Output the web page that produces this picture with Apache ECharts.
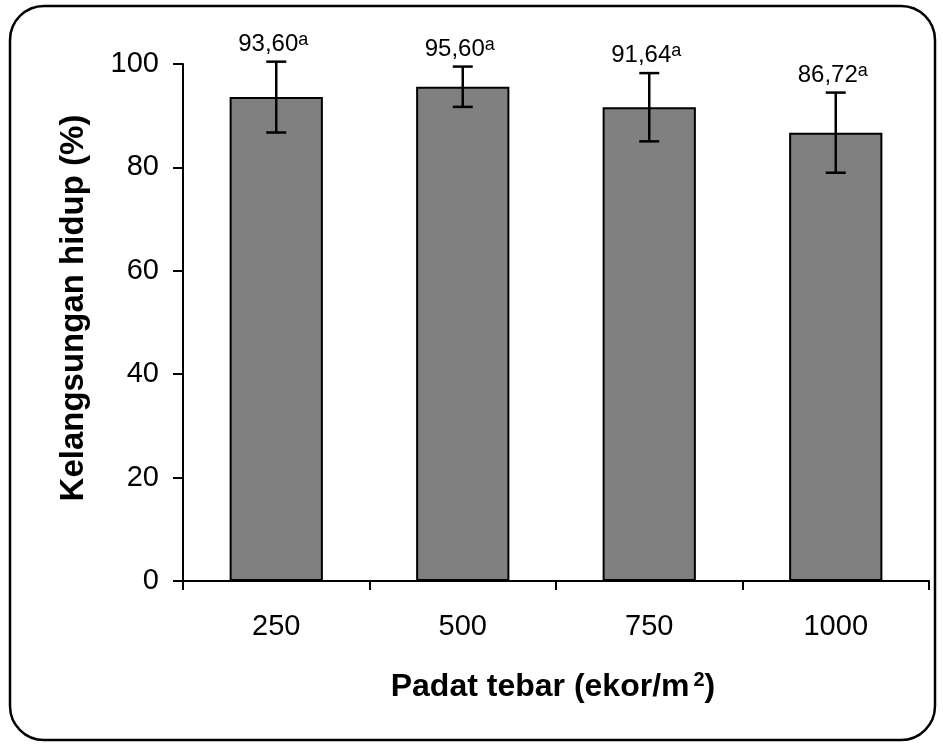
<!DOCTYPE html>
<html>
<head>
<meta charset="utf-8">
<script src="https://cdn.jsdelivr.net/npm/echarts@6/dist/echarts.min.js"></script>
<style>html,body{margin:0;padding:0;background:#fff;}#c{width:943px;height:745px;}</style>
</head>
<body>
<div id="c"></div>
<script>
const categories = ['250', '500', '750', '1000'];
const survival = [93.60, 95.60, 91.64, 86.72];
const errors = [6.85, 3.9, 6.6, 7.75];
const valueLabels = ['93,60', '95,60', '91,64', '86,72'];
const letters = ['a', 'a', 'a', 'a'];
const yTicks = { min: 0, max: 100, interval: 20 };
const yTitle = 'Kelangsungan hidup (%)';

const FONT = '"Liberation Sans", Arial, sans-serif';
const chart = echarts.init(document.getElementById('c'));

const errData = categories.map((c, i) => [i, survival[i], errors[i], i]);

chart.setOption({
  animation: false,
  backgroundColor: '#fff',
  grid: { left: 183, right: 14, top: 64, bottom: 164, containLabel: false },
  graphic: [{
    type: 'rect',
    shape: { x: 10, y: 6, width: 925, height: 734, r: 34 },
    style: { fill: 'none', stroke: '#000', lineWidth: 2.5 },
    z: -1
  }, {
    type: 'text',
    x: 74, y: 308,
    rotation: Math.PI / 2,
    style: {
      text: yTitle, align: 'center', verticalAlign: 'middle',
      font: 'bold 33px ' + FONT, fill: '#000'
    }
  }],
  xAxis: {
    type: 'category',
    data: categories,
    axisLine: { show: true, lineStyle: { color: '#000', width: 2 } },
    axisTick: { show: true, length: 9, lineStyle: { color: '#000', width: 2 } },
    axisLabel: { color: '#000', fontFamily: FONT, fontSize: 29, margin: 31 },
    name: '{t|Padat tebar (ekor/m}{s|2}{t|)}',
    nameLocation: 'middle',
    nameGap: 89,
    nameTextStyle: {
      padding: [0, 6, 0, 0],
      rich: {
        t: { fontFamily: FONT, fontSize: 32, fontWeight: 'bold', color: '#000' },
        s: { fontFamily: FONT, fontSize: 20, fontWeight: 'bold', color: '#000', verticalAlign: 'top', padding: [0, 0, 14, 4] }
      }
    }
  },
  yAxis: {
    type: 'value',
    min: yTicks.min, max: yTicks.max, interval: yTicks.interval,
    splitLine: { show: false },
    axisLine: { show: true, lineStyle: { color: '#000', width: 2 } },
    axisTick: { show: true, length: 10, lineStyle: { color: '#000', width: 2 } },
    axisLabel: { color: '#000', fontFamily: FONT, fontSize: 29, margin: 24 }
  },
  series: [
    {
      type: 'bar',
      data: survival,
      barWidth: '50%',
      itemStyle: { color: '#808080', borderColor: '#000', borderWidth: 2 }
    },
    {
      type: 'custom',
      data: errData,
      encode: { x: 0, y: 1 },
      z: 5,
      renderItem: function (params, api) {
        const i = api.value(3);
        const m = api.value(1), e = api.value(2);
        const top = api.coord([api.value(0), m + e]);
        const bot = api.coord([api.value(0), m - e]);
        const cap = 10;
        const ls = { stroke: '#000', lineWidth: 2.5 };
        return {
          type: 'group',
          children: [
            { type: 'line', shape: { x1: top[0], y1: top[1], x2: bot[0], y2: bot[1] }, style: ls },
            { type: 'line', shape: { x1: top[0] - cap, y1: top[1], x2: top[0] + cap, y2: top[1] }, style: ls },
            { type: 'line', shape: { x1: bot[0] - cap, y1: bot[1], x2: bot[0] + cap, y2: bot[1] }, style: ls },
            {
              type: 'text',
              x: top[0] - 3,
              y: top[1] - 4,
              style: {
                text: '{v|' + valueLabels[i] + '}{s|' + letters[i] + '}',
                align: 'center',
                verticalAlign: 'bottom',
                rich: {
                  v: { fontFamily: FONT, fontSize: 24, fill: '#000', color: '#000' },
                  s: { fontFamily: FONT, fontSize: 18, fill: '#000', color: '#000', verticalAlign: 'top', padding: [0, 0, 9, 0] }
                }
              }
            }
          ]
        };
      }
    }
  ]
});
</script>
</body>
</html>
